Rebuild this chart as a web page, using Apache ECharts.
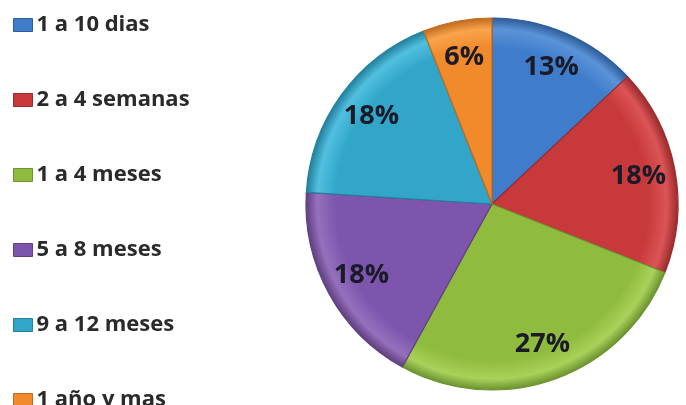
<!DOCTYPE html>
<html>
<head>
<meta charset="utf-8">
<script src="https://cdn.jsdelivr.net/npm/echarts@6/dist/echarts.min.js"></script>
<style>
  html, body { margin: 0; padding: 0; background: #ffffff; }
  #chart { width: 686px; height: 405px; }
</style>
</head>
<body>
<div id="chart"></div>
<script>
// Duration categories and their share (percent)
const categories = ['1 a 10 dias', '2 a 4 semanas', '1 a 4 meses', '5 a 8 meses', '9 a 12 meses', '1 año y mas'];
const shares = [13, 18, 27, 18, 18, 6];
const baseColors = ['#3f7dcc', '#c8393b', '#8fbb3e', '#7d55ad', '#31a6c9', '#f08a2a'];
const edgeColors = ['#2d5c9a', '#9a2a2c', '#6d9230', '#5f3f80', '#22809e', '#c06a1e'];
const lightColors = ['#5b93d8', '#dc5456', '#a8d25a', '#9670bd', '#52bfdf', '#f9a44c'];

const CX = 492, CY = 204, R = 186;

function sliceFill(i) {
  return {
    type: 'radial', x: CX, y: CY, r: R, global: true,
    colorStops: [
      { offset: 0, color: baseColors[i] },
      { offset: 0.84, color: baseColors[i] },
      { offset: 0.94, color: lightColors[i] },
      { offset: 1, color: edgeColors[i] }
    ]
  };
}

const pieData = categories.map((name, i) => ({
  name, value: shares[i],
  itemStyle: { color: sliceFill(i), borderColor: edgeColors[i], borderWidth: 1.2 }
}));

const labelData = categories.map((name, i) => ({ name, value: shares[i] }));

const legendData = categories.map((name, i) => ({
  name, itemStyle: { color: baseColors[i], borderColor: edgeColors[i], borderWidth: 1 }
}));

const chart = echarts.init(document.getElementById('chart'), null, { renderer: 'canvas' });
chart.setOption({
  animation: false,
  color: baseColors,
  legend: {
    orient: 'vertical',
    left: 8,
    top: 9,
    height: 700,
    itemWidth: 19,
    itemHeight: 13,
    itemGap: 53,
    icon: 'rect',
    data: legendData,
    textStyle: {
      fontFamily: 'Open Sans', fontWeight: 'bold', fontSize: 22, color: '#2a2a2a',
      lineHeight: 22, padding: [0, 0, 0, -1]
    }
  },
  series: [
    {
      type: 'pie',
      center: [CX, CY],
      radius: [0, R],
      startAngle: 90,
      clockwise: true,
      silent: true,
      label: { show: false },
      labelLine: { show: false },
      data: pieData
    },
    {
      // transparent ring carrying the percentage labels near the rim
      type: 'pie',
      center: [CX, CY],
      radius: [106, R],
      startAngle: 90,
      clockwise: true,
      silent: true,
      itemStyle: { color: 'rgba(0,0,0,0)' },
      label: {
        show: true,
        position: 'inside',
        formatter: p => p.value + '%',
        fontFamily: 'Open Sans', fontWeight: 'bold', fontSize: 27, color: '#1a1a28'
      },
      labelLine: { show: false },
      data: labelData
    }
  ]
});
</script>
</body>
</html>
